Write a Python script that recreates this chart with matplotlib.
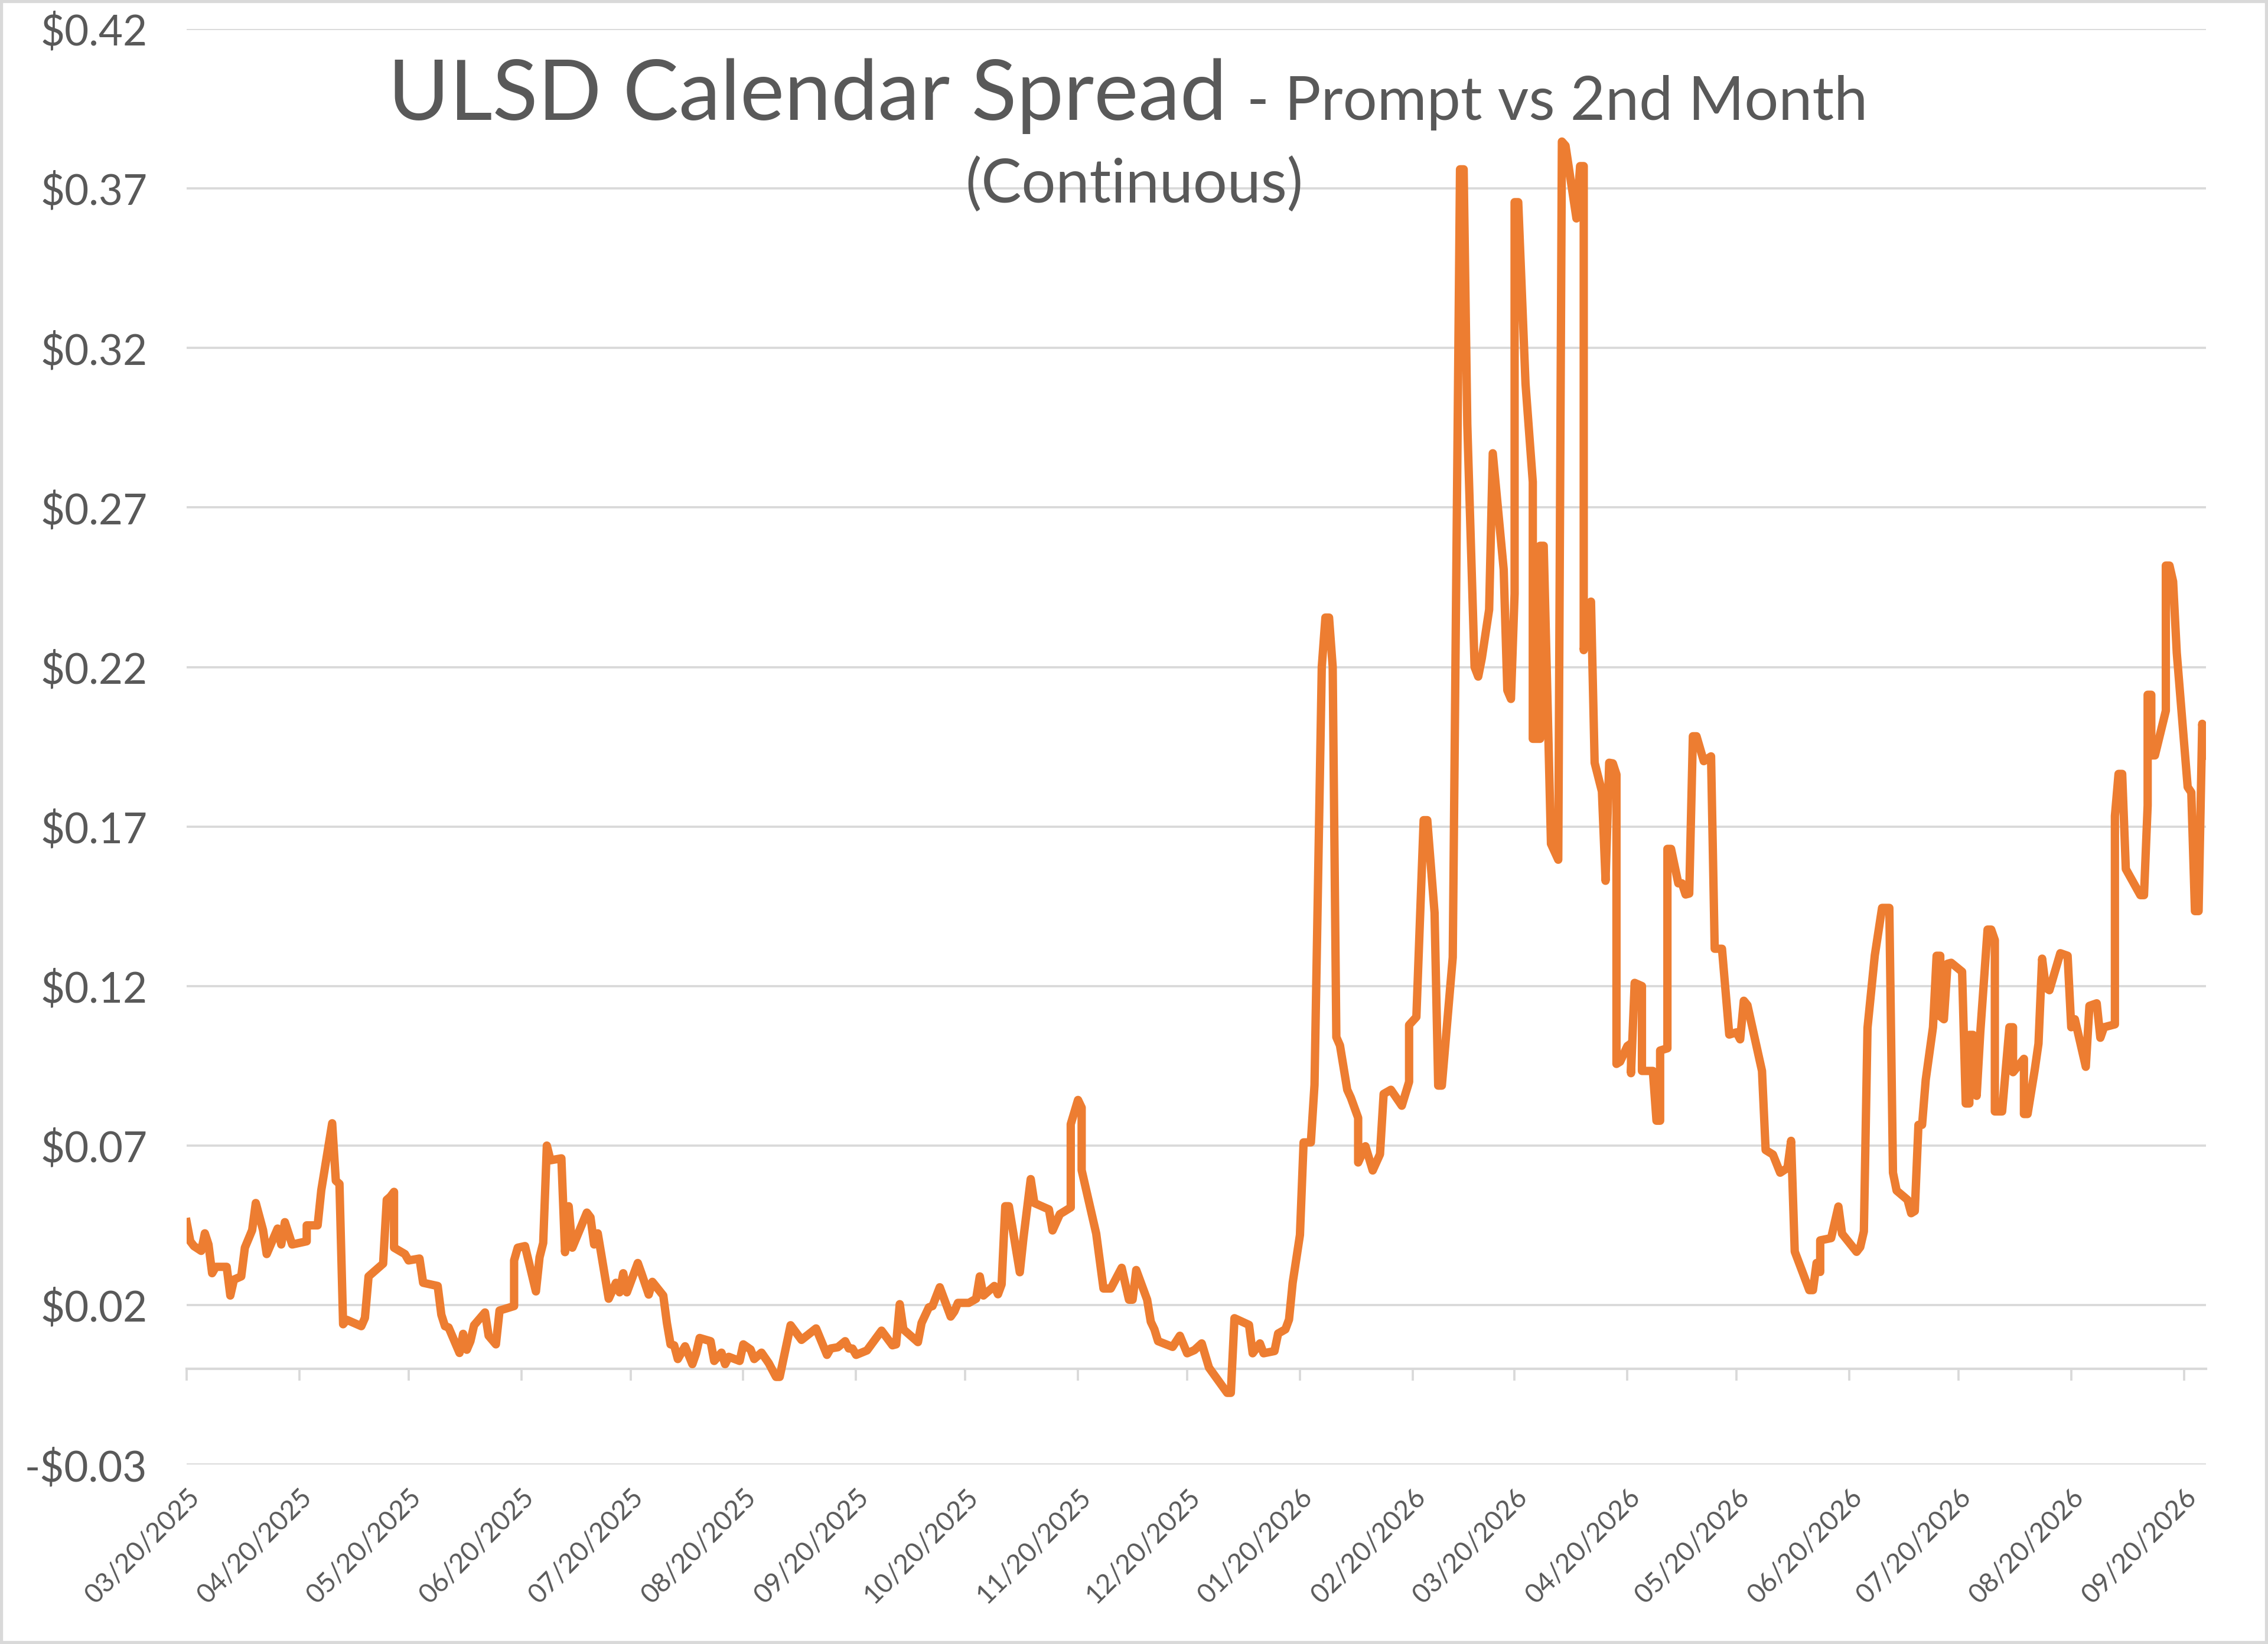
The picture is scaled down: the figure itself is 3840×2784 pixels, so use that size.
import datetime as dt
import matplotlib
matplotlib.use('Agg')
import matplotlib.pyplot as plt
import matplotlib.dates as mdates
from matplotlib.ticker import FuncFormatter
from matplotlib.patches import Rectangle

# data: calendar days after the start date, spread in $/gal
start_date = dt.date(2025, 3, 20)
day_offsets = [
    0, 1, 2, 4, 5, 6, 7, 8, 11, 12, 13, 15, 16, 18, 19, 21, 22, 25, 26, 27,
    29, 33, 33, 36, 37, 40, 41, 42, 43, 44, 48, 49, 50, 54, 55, 56, 57, 57, 60, 61,
    64, 65, 69, 70, 71, 72, 75, 76, 77, 78, 79, 82, 83, 85, 86, 90, 90, 91, 93, 96,
    97, 98, 99, 100, 103, 104, 105, 106, 110, 111, 112, 113, 116, 118, 119, 120, 121, 124, 125, 127,
    128, 131, 132, 133, 134, 135, 137, 139, 140, 141, 144, 145, 147, 148, 149, 152, 153, 155, 156, 158,
    160, 162, 163, 166, 169, 173, 176, 177, 179, 181, 182, 183, 184, 187, 191, 194, 195, 196, 197, 201,
    202, 204, 205, 207, 210, 211, 212, 215, 217, 218, 219, 222, 223, 224, 225, 226, 229, 230, 232, 233,
    237, 238, 240, 243, 243, 245, 246, 246, 250, 252, 254, 257, 259, 260, 261, 264, 265, 266, 267, 271,
    273, 275, 277, 279, 281, 286, 287, 288, 292, 293, 295, 296, 299, 300, 302, 303, 304, 306, 307, 309,
    310, 312, 313, 314, 315, 316, 317, 319, 320, 322, 322, 324, 326, 328, 329, 331, 334, 336, 336, 338,
    340, 341, 343, 344, 345, 348, 350, 351, 352, 354, 355, 356, 358, 359, 362, 363, 364, 365, 365, 366,
    368, 370, 370, 372, 372, 373, 375, 377, 378, 379, 382, 383, 384, 384, 386, 387, 389, 390, 391, 392,
    393, 393, 394, 396, 397, 397, 398, 400, 400, 403, 404, 405, 405, 407, 407, 408, 410, 411, 412, 413,
    414, 415, 417, 419, 420, 422, 424, 426, 427, 428, 429, 433, 434, 436, 438, 440, 441, 442, 446, 447,
    448, 449, 449, 452, 454, 455, 459, 460, 461, 462, 464, 466, 468, 469, 470, 473, 474, 475, 476, 477,
    478, 480, 481, 482, 482, 483, 484, 485, 488, 489, 490, 490, 491, 492, 493, 495, 496, 497, 497, 499,
    501, 502, 502, 505, 505, 506, 508, 509, 510, 511, 512, 515, 517, 518, 519, 522, 523, 525, 526, 527,
    530, 530, 531, 532, 533, 537, 538, 539, 539, 540, 540, 541, 544, 544, 545, 546, 547, 550, 551, 552,
    553, 554, 555,
]
spread = [
    0.046, 0.040, 0.0385, 0.037, 0.0425, 0.039, 0.030, 0.032, 0.032, 0.023, 0.028, 0.029, 0.038, 0.0435, 0.052, 0.0435, 0.036, 0.044, 0.039, 0.046,
    0.039, 0.040, 0.045, 0.045, 0.056, 0.077, 0.059, 0.058, 0.014, 0.0154, 0.0134, 0.016, 0.029, 0.033, 0.053, 0.054, 0.0555, 0.038, 0.036, 0.034,
    0.0346, 0.027, 0.026, 0.017, 0.0134, 0.013, 0.005, 0.011, 0.006, 0.0087, 0.0137, 0.0177, 0.0104, 0.0077, 0.0183, 0.0197, 0.034, 0.038, 0.0385, 0.0243,
    0.035, 0.0395, 0.070, 0.0654, 0.066, 0.0366, 0.051, 0.038, 0.049, 0.0475, 0.039, 0.0425, 0.022, 0.027, 0.024, 0.030, 0.024, 0.0332, 0.030, 0.0233,
    0.0273, 0.023, 0.0144, 0.0077, 0.0074, 0.0031, 0.0071, 0.0015, 0.0048, 0.0097, 0.0087, 0.0025, 0.0051, 0.0015, 0.0038, 0.0025, 0.0077, 0.0061, 0.0031, 0.0051,
    0.0018, -0.0025, -0.0025, 0.0137, 0.0091, 0.0127, 0.0044, 0.0064, 0.0068, 0.0087, 0.0064, 0.0064, 0.0044, 0.0058, 0.012, 0.0074, 0.0077, 0.0203, 0.0124, 0.0084,
    0.0144, 0.0193, 0.0197, 0.0256, 0.0164, 0.018, 0.0207, 0.0207, 0.022, 0.029, 0.023, 0.026, 0.0234, 0.0265, 0.051, 0.051, 0.0303, 0.041, 0.0595, 0.052,
    0.050, 0.0434, 0.0485, 0.0506, 0.0767, 0.0843, 0.0819, 0.0623, 0.0424, 0.0252, 0.0252, 0.0317, 0.0217, 0.0217, 0.031, 0.0217, 0.0148, 0.0124, 0.0087, 0.0069,
    0.0104, 0.0049, 0.0059, 0.008, 0.0004, -0.0075, -0.0075, 0.0159, 0.0138, 0.0049, 0.008, 0.0049, 0.0056, 0.0111, 0.0124, 0.0155, 0.027, 0.042, 0.071, 0.071,
    0.089, 0.220, 0.2355, 0.2355, 0.220, 0.104, 0.1014, 0.0875, 0.085, 0.0787, 0.0647, 0.0698, 0.0622, 0.0673, 0.0862, 0.0875, 0.0825, 0.090, 0.1078, 0.1103,
    0.172, 0.172, 0.143, 0.0888, 0.0888, 0.129, 0.376, 0.376, 0.296, 0.220, 0.217, 0.2228, 0.238, 0.287, 0.2506, 0.2127, 0.210, 0.243, 0.3657, 0.3657,
    0.3088, 0.278, 0.1975, 0.1975, 0.258, 0.258, 0.1646, 0.1596, 0.3847, 0.3834, 0.3606, 0.377, 0.377, 0.2253, 0.2405, 0.190, 0.181, 0.153, 0.190, 0.1898,
    0.1863, 0.0956, 0.0963, 0.1012, 0.102, 0.0927, 0.121, 0.120, 0.0934, 0.0934, 0.0778, 0.0778, 0.0998, 0.1005, 0.163, 0.163, 0.1522, 0.1522, 0.1487, 0.149,
    0.1983, 0.1983, 0.1905, 0.192, 0.1317, 0.1317, 0.1048, 0.1055, 0.1033, 0.1154, 0.114, 0.0934, 0.0686, 0.0672, 0.0615, 0.063, 0.0715, 0.0368, 0.0247, 0.0247,
    0.0332, 0.0304, 0.0403, 0.041, 0.0509, 0.0424, 0.0367, 0.0382, 0.0431, 0.1069, 0.1296, 0.1445, 0.1445, 0.0615, 0.0559, 0.053, 0.0488, 0.0495, 0.0765, 0.0765,
    0.0906, 0.1071, 0.1295, 0.1295, 0.1105, 0.1096, 0.127, 0.1273, 0.1245, 0.0832, 0.0832, 0.1047, 0.1047, 0.0856, 0.1055, 0.1377, 0.1377, 0.1344, 0.0807, 0.0807,
    0.1071, 0.1071, 0.093, 0.0972, 0.0799, 0.0799, 0.094, 0.102, 0.1286, 0.1195, 0.1187, 0.1303, 0.1295, 0.1071, 0.1096, 0.0947, 0.1138, 0.1146, 0.1038, 0.1071,
    0.108, 0.1733, 0.1865, 0.1865, 0.1567, 0.1485, 0.1485, 0.1766, 0.2113, 0.2113, 0.1923, 0.1923, 0.2063, 0.2518, 0.2518, 0.2468, 0.2245, 0.1824, 0.1807, 0.1435,
    0.1435, 0.2022, 0.1923,
]
y_ticks = [-0.03, 0.02, 0.07, 0.12, 0.17, 0.22, 0.27, 0.32, 0.37, 0.42]

title_main = "ULSD Calendar Spread"
title_sub = "- Prompt vs 2nd Month"
title_line2 = "(Continuous)"

dates = [start_date + dt.timedelta(days=d) for d in day_offsets]

plt.rcParams['font.family'] = 'Lato'
text_col = '#595959'
grid_col = '#d9d9d9'
line_col = '#ed7d31'

fig = plt.figure(figsize=(12.8, 9.28), dpi=300)
ax = fig.add_axes([0.0823, 0.1091, 0.8903, 0.8733])

ax.plot(dates, spread, color=line_col, lw=3.4, solid_joinstyle='round', zorder=3)

ax.set_ylim(y_ticks[0], y_ticks[-1])
ax.set_xlim(dates[0], dates[-1])
ax.set_yticks(y_ticks)


def money(v, pos):
    if v < 0:
        return '-$%.2f' % abs(v)
    return '$%.2f' % v


ax.yaxis.set_major_formatter(FuncFormatter(money))
ax.grid(axis='y', color=grid_col, lw=0.9)
ax.set_axisbelow(True)
for s in ax.spines.values():
    s.set_visible(False)

ax.xaxis.set_major_locator(mdates.MonthLocator(bymonthday=20))
ax.xaxis.set_major_formatter(mdates.DateFormatter('%m/%d/%Y'))
ax.tick_params(axis='y', length=0, pad=16, labelsize=17, labelcolor=text_col)
ax.tick_params(axis='x', length=0, pad=8, labelsize=11, labelcolor=text_col)
for lab in ax.get_xticklabels():
    lab.set_rotation(45)
    lab.set_ha('right')
    lab.set_rotation_mode('anchor')

# horizontal axis line sits at zero, with its own short ticks
y0 = (0 - y_ticks[0]) / (y_ticks[-1] - y_ticks[0])
sec = ax.secondary_xaxis(y0)
sec.set_xticks(ax.get_xticks())
sec.tick_params(axis='x', direction='out', length=4.8, width=0.9, color=grid_col,
                labelbottom=False, labeltop=False)
sec.spines['bottom'].set_color(grid_col)
sec.spines['bottom'].set_linewidth(1.0)

fig.text(0.541, 0.927, title_main, ha='right', va='baseline', fontsize=34, color=text_col)
fig.text(0.5497, 0.927, title_sub, ha='left', va='baseline', fontsize=24.5, color=text_col)
fig.text(0.5, 0.877, title_line2, ha='center', va='baseline', fontsize=24.5, color=text_col)

fig.add_artist(Rectangle((0, 0), 1, 1, transform=fig.transFigure, fill=False,
                         ec=grid_col, lw=2.5))

fig.savefig('out.png', dpi=300)
